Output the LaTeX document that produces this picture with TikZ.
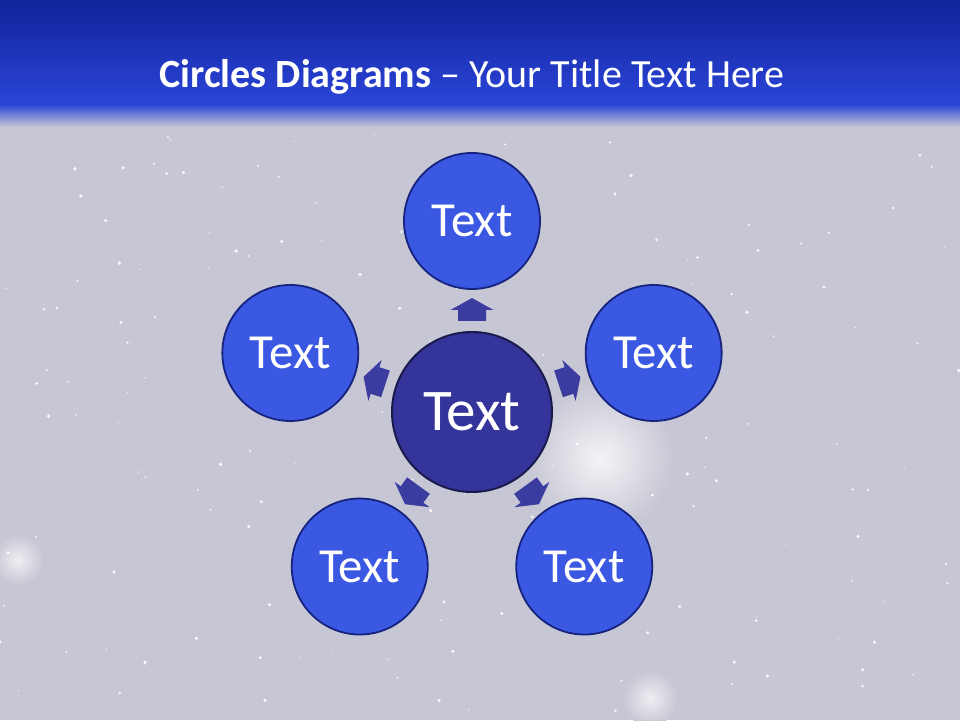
\documentclass[tikz,border=0pt]{standalone}
\usepackage{fontspec}
\setmainfont{Carlito}
\usetikzlibrary{calc}
\definecolor{bg}{HTML}{C6C6D4}
\definecolor{bartop}{HTML}{10239A}
\definecolor{barbot}{HTML}{2B45D8}
\definecolor{outerfill}{HTML}{3B58E2}
\definecolor{outerline}{HTML}{16237E}
\definecolor{centerfill}{HTML}{34349A}
\definecolor{centerline}{HTML}{1A1A4E}
\definecolor{arrowfill}{HTML}{3A3CA0}
\begin{document}
\begin{tikzpicture}[x=1pt,y=1pt,
  outercirc/.style={circle, draw=outerline, line width=1.8pt, fill=outerfill,
    minimum size=136pt, inner sep=0pt, text=white, font=\fontsize{49}{49}\selectfont},
  centercirc/.style={circle, draw=centerline, line width=2pt, fill=centerfill,
    minimum size=160pt, inner sep=0pt, text=white, font=\fontsize{59}{59}\selectfont},
  blockarrow/.style={fill=arrowfill, draw=none}]
\useasboundingbox (0,0) rectangle (960,720);
% background
\fill[bg] (0,0) rectangle (960,720);
% glows
\shade[inner color=white!80!bg, outer color=bg] (600,262) circle (75);
\shade[inner color=white!70!bg, outer color=bg] (650,22) circle (28);
\shade[inner color=white!70!bg, outer color=bg] (18,160) circle (26);
% stars
\pgfmathsetseed{7}
\foreach \i in {1,...,170}{
  \pgfmathsetmacro\sx{rnd*960}
  \pgfmathsetmacro\sy{rnd*600}
  \pgfmathsetmacro\sr{0.5+rnd*1.4}
  \fill[white, opacity=0.9] (\sx,\sy) circle (\sr);
}
% title bar
\shade[top color=bartop, bottom color=barbot] (0,615) rectangle (960,720);
\shade[top color=barbot, bottom color=bg] (0,593) rectangle (960,615.5);
\node[text=white, font=\fontsize{40}{40}\selectfont] (title) at (472,643)
  {\textbf{Circles Diagrams} – Your Title Text Here};
% arrows
\coordinate (c) at (472,308);
\foreach \a in {90,162,18,234,306}{
  \begin{scope}[shift={(c)}, rotate=\a]
    \fill[blockarrow] (91,-14) -- (102,-14) -- (102,-21.5) -- (114,0) --
      (102,21.5) -- (102,14) -- (91,14) -- cycle;
  \end{scope}
}
% circles
\node[centercirc] (center) at (c) {Text};
\node[outercirc] (n90) at ($(c)+(90:191)$) {Text};
\node[outercirc] (n162) at ($(c)+(162:191)$) {Text};
\node[outercirc] (n18) at ($(c)+(18:191)$) {Text};
\node[outercirc] (n234) at ($(c)+(234:191)$) {Text};
\node[outercirc] (n306) at ($(c)+(306:191)$) {Text};
\end{tikzpicture}
\end{document}
